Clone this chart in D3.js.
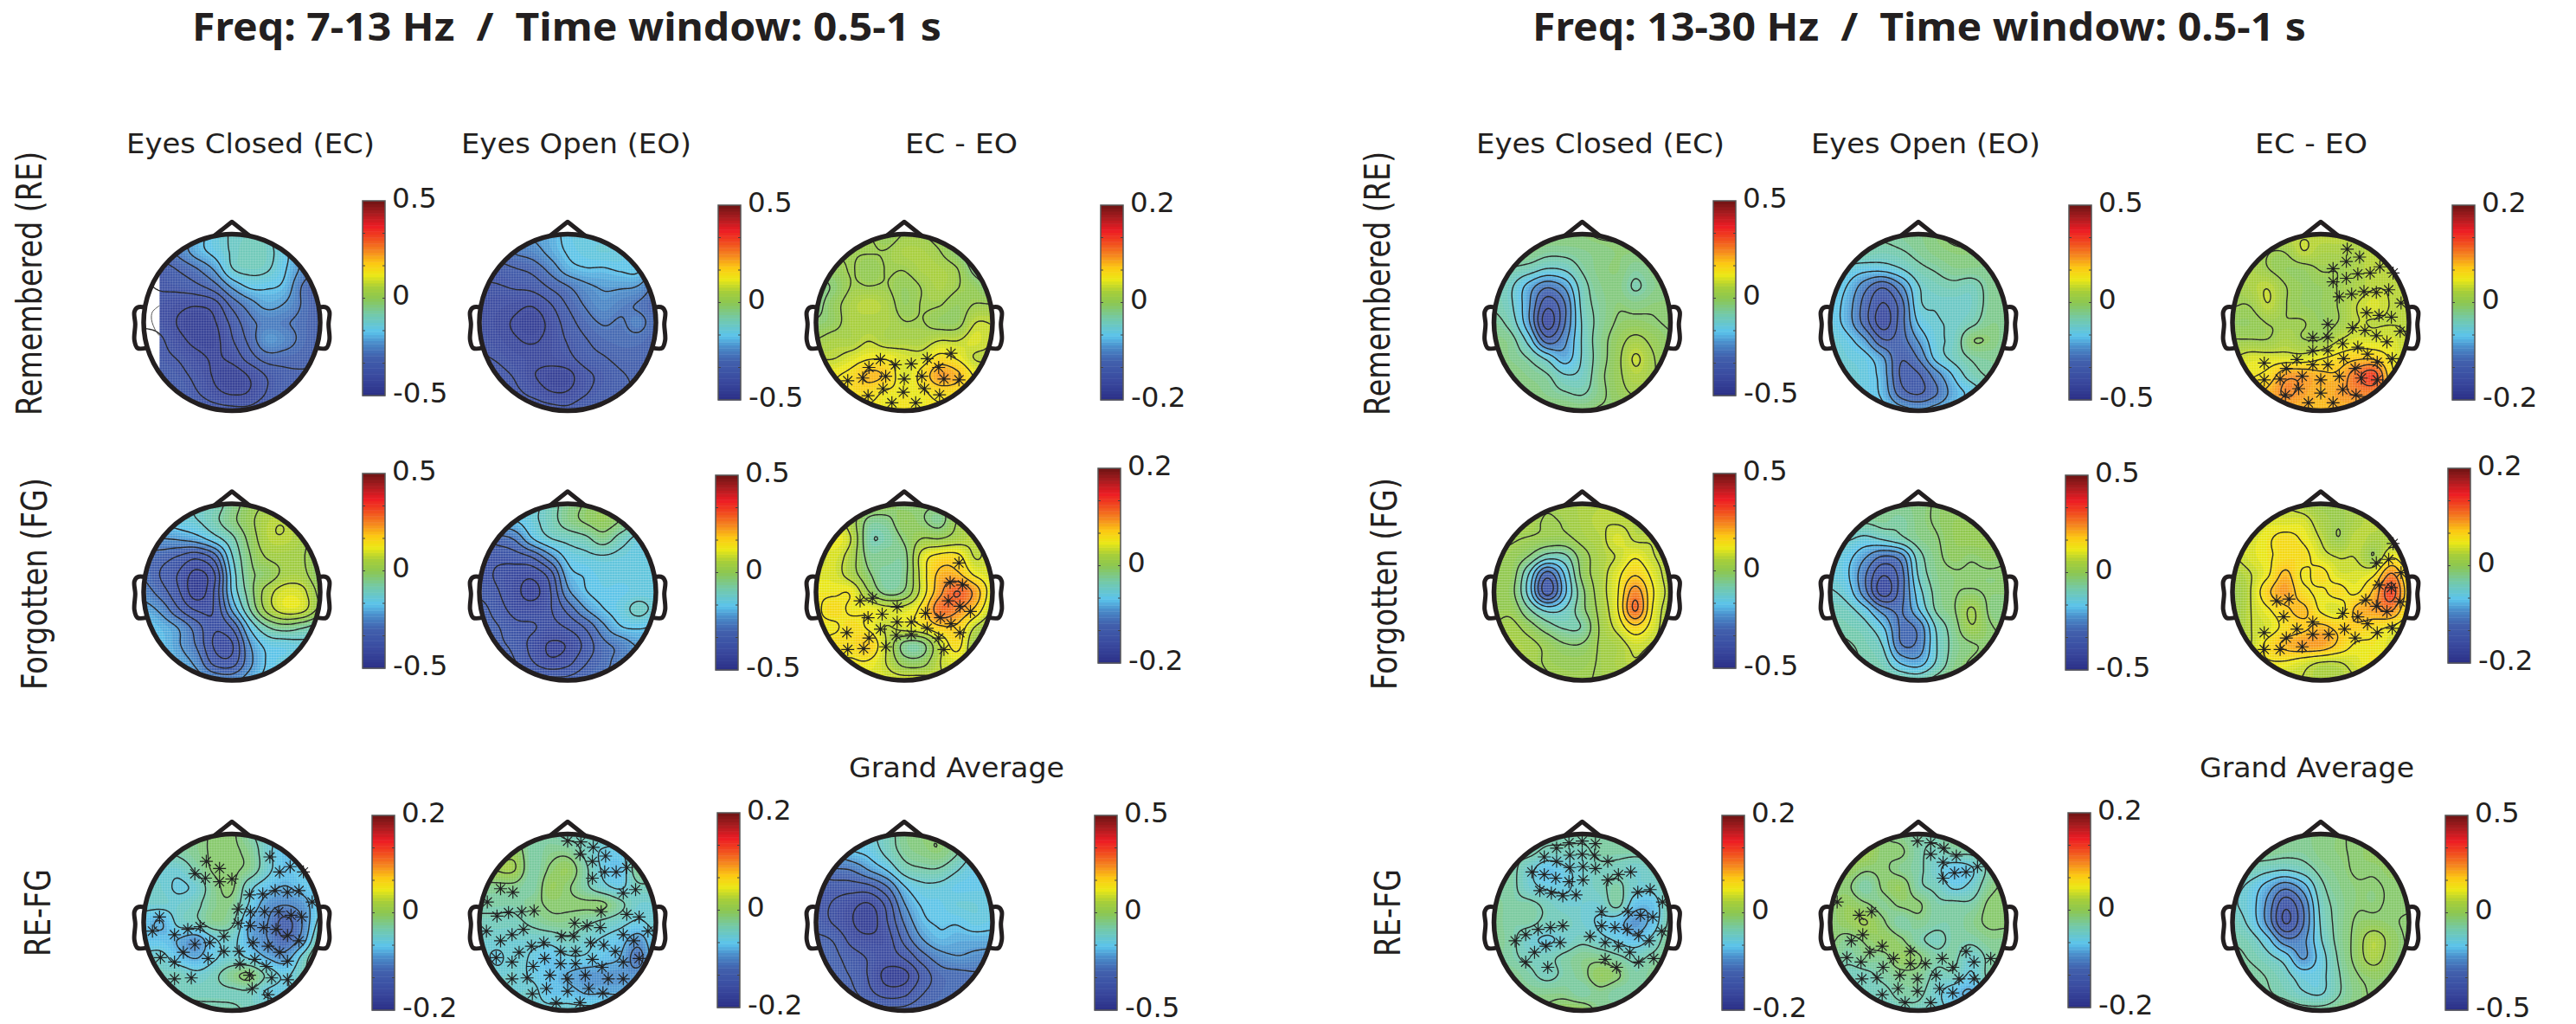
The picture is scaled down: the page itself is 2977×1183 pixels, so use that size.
<!DOCTYPE html>
<html>
<head>
<meta charset="utf-8">
<script src="https://d3js.org/d3.v7.min.js"></script>
<style>
body { margin: 0; background: #fff; }
text { fill: #231f20; font-family: "DejaVu Sans", sans-serif; }
</style>
</head>
<body>
<div id="chart"></div>
<script>
// scalp values in hundredths, 11 columns left to right, 11 rows front to back
const alphaReEc = [
[-28,-28,-26,-20,-15,-12,-11,-12,-18,-26,-28],[-32,-30,-26,-20,-16,-12,-10,-11,-16,-24,-28],[-36,-35,-32,-28,-22,-13,-11,-12,-17,-24,-30],
[-38,-37,-36,-34,-30,-22,-17,-17,-19,-28,-32],[-38,-39,-41,-42,-40,-31,-25,-21,-23,-28,-32],[-38,-39,-43,-45,-43,-36,-29,-26,-27,-29,-32],
[-36,-37,-41,-44,-44,-38,-31,-23,-25,-29,-32],[-34,-36,-38,-41,-43,-41,-35,-30,-30,-31,-33],[-33,-34,-36,-39,-43,-45,-42,-37,-34,-33,-33],
[-32,-33,-34,-37,-41,-43,-42,-37,-33,-32,-32],[-31,-31,-32,-33,-35,-36,-36,-33,-32,-31,-30]];
const alphaReEo = [
[-28,-28,-26,-22,-20,-16,-15,-15,-18,-24,-28],[-32,-30,-27,-25,-21,-17,-15,-14,-15,-20,-26],[-36,-35,-33,-31,-26,-20,-18,-18,-17,-17,-24],
[-38,-38,-37,-36,-32,-28,-24,-22,-22,-23,-29],[-39,-40,-41,-42,-38,-32,-27,-24,-26,-28,-31],[-39,-41,-43,-45,-41,-35,-30,-27,-28,-26,-30],
[-38,-40,-42,-43,-41,-37,-33,-30,-29,-29,-31],[-37,-38,-40,-41,-41,-39,-35,-33,-31,-31,-32],[-35,-36,-38,-42,-44,-44,-39,-36,-33,-32,-32],
[-33,-34,-36,-39,-42,-42,-38,-35,-33,-32,-31],[-30,-31,-32,-33,-35,-36,-33,-33,-32,-31,-30]];
const alphaReDiff = [
[1,1,1,1,0,1,1,0,-1,-2,-2],[0,1,1,1,1,2,2,1,-1,-3,-3],[-1,0,1,0,1,1,2,2,1,-2,-3],
[-2,-1,1,1,1,0,1,2,1,0,-2],[-2,0,2,3,2,0,1,1,0,1,1],[-1,0,2,2,2,1,1,0,0,3,3],
[1,2,2,3,2,2,2,3,3,4,3],[3,3,4,5,5,4,4,6,5,3,3],[4,5,6,8,7,4,6,9,8,5,4],
[5,5,6,6,5,5,5,6,6,5,4],[5,5,5,5,5,5,5,5,5,5,4]];
const alphaFgEc = [
[-15,-15,-14,-12,-10,-5,0,3,3,0,-5],[-18,-17,-15,-13,-9,-4,1,6,7,3,-2],[-25,-23,-22,-20,-15,-9,-1,6,7,4,-2],
[-28,-30,-33,-36,-30,-13,-3,3,4,3,-2],[-28,-33,-38,-44,-38,-16,-4,-1,4,4,-2],[-25,-30,-37,-45,-37,-17,-5,5,10,9,1],
[-20,-24,-32,-38,-37,-22,-8,4,10,9,1],[-17,-19,-23,-30,-37,-32,-17,-8,-5,-7,-10],[-17,-18,-22,-28,-38,-38,-23,-16,-15,-14,-14],
[-17,-18,-20,-24,-34,-35,-24,-17,-15,-15,-15],[-15,-16,-18,-20,-23,-24,-20,-16,-15,-15,-15]];
const alphaFgEo = [
[-15,-15,-15,-14,-10,-5,-2,0,-2,-8,-12],[-22,-20,-18,-14,-10,-5,-2,0,-3,-9,-14],[-32,-30,-27,-18,-13,-11,-9,-5,-10,-14,-15],
[-35,-36,-35,-32,-24,-16,-14,-13,-14,-15,-15],[-36,-38,-40,-41,-35,-20,-17,-15,-15,-15,-15],[-34,-37,-41,-44,-38,-24,-18,-16,-16,-15,-15],
[-30,-35,-39,-40,-38,-31,-23,-18,-15,-11,-14],[-29,-32,-36,-37,-39,-37,-32,-24,-18,-17,-18],[-28,-31,-34,-39,-43,-42,-36,-29,-26,-22,-24],
[-26,-28,-32,-37,-41,-39,-33,-29,-26,-25,-25],[-25,-26,-28,-30,-31,-31,-29,-27,-26,-25,-25]];
const alphaFgDiff = [
[3,3,3,1,0,-1,-1,-1,0,3,4],[4,4,2,-2,-2,0,-1,-2,1,3,4],[4,5,3,-3,-3,-1,1,1,2,3,4],
[3,4,2,-2,-2,-2,4,6,6,3,4],[4,4,2,-1,-3,-2,4,8,8,5,4],[5,5,5,1,-2,-1,4,9,12,9,4],
[5,6,5,5,4,4,6,11,10,7,3],[5,5,6,5,3,4,5,7,7,3,1],[5,6,6,7,3,-2,-2,3,6,1,-1],
[5,5,5,5,3,0,0,3,4,2,-1],[4,4,4,4,4,4,4,3,3,2,1]];
const alphaRfEc = [
[-4,-4,-3,-2,-1,-1,-3,-5,-6,-5,-5],[-4,-4,-3,-2,-1,-1,-2,-5,-7,-6,-5],[-5,-5,-5,-3,-1,-1,-2,-5,-7,-6,-5],
[-5,-5,-6,-5,-2,-1,-5,-7,-8,-7,-6],[-5,-5,-5,-4,-2,-2,-6,-9,-10,-9,-6],[-7,-8,-5,-4,-2,-3,-8,-10,-13,-10,-5],
[-7,-7,-8,-9,-6,-5,-8,-10,-12,-9,-3],[-5,-5,-7,-8,-6,-5,-6,-8,-9,-5,-1],[-3,-4,-4,-5,-4,-2,-1,-4,-6,-4,-2],
[-3,-3,-4,-4,-4,-4,-4,-6,-6,-4,-3],[-2,-2,-2,-3,-3,-3,-4,-4,-4,-3,-3]];
const alphaRfEo = [
[-3,-2,-2,-3,-3,-4,-4,-4,-4,-4,-4],[-3,-1,0,-3,-2,-2,-4,-6,-6,-3,-3],[0,1,1,-3,-1,0,-3,-6,-7,-2,-3],
[-2,-2,-2,-3,0,-1,-3,-5,-6,-4,-4],[-3,-3,-3,-2,-1,-1,-1,-1,-3,-5,-5],[-4,-4,-4,-3,-2,-2,-3,-4,-5,-6,-5],
[-5,-5,-5,-5,-5,-4,-5,-6,-7,-9,-6],[-5,-6,-5,-6,-7,-6,-6,-7,-8,-11,-6],[-4,-5,-5,-6,-7,-8,-9,-9,-9,-9,-6],
[-4,-4,-5,-5,-7,-7,-8,-8,-8,-7,-5],[-4,-4,-4,-5,-5,-5,-5,-5,-5,-5,-5]];
const alphaGrand = [
[-20,-20,-18,-14,-10,-5,-3,-3,-6,-12,-16],[-24,-22,-18,-16,-11,-6,-4,-3,-7,-14,-18],[-30,-28,-27,-22,-17,-10,-8,-8,-12,-16,-18],
[-35,-35,-35,-34,-28,-18,-14,-14,-16,-16,-16],[-36,-38,-41,-43,-36,-23,-17,-16,-14,-14,-15],[-35,-38,-42,-45,-38,-27,-19,-17,-17,-15,-16],
[-31,-33,-39,-41,-40,-31,-23,-19,-20,-20,-20],[-29,-31,-35,-38,-40,-37,-30,-25,-23,-24,-25],[-27,-30,-33,-38,-44,-44,-36,-30,-29,-28,-28],
[-26,-28,-31,-36,-40,-39,-33,-30,-28,-27,-27],[-25,-26,-27,-29,-31,-31,-29,-28,-27,-26,-25]];
const betaReEc = [
[-2,-2,-2,-3,-3,-3,-2,-2,-2,-2,-2],[-3,-3,-4,-6,-6,-5,-4,-3,-3,-3,-3],[-6,-8,-10,-13,-12,-7,-4,-3,-6,-4,-3],
[-8,-12,-20,-27,-22,-10,-5,-4,-8,-5,-3],[-8,-12,-22,-36,-28,-11,-6,-3,-4,-3,-3],[-6,-10,-22,-40,-28,-12,-6,-2,-1,-2,-3],
[-4,-6,-15,-30,-24,-12,-5,0,4,1,-2],[-3,-5,-8,-14,-20,-12,-5,1,8,3,-2],[-2,-3,-5,-7,-12,-11,-4,1,6,3,-1],
[-1,-2,-3,-5,-7,-8,-4,0,3,1,-1],[0,-1,-1,-2,-2,-3,-2,-2,-1,-1,0]];
const betaReEo = [
[-6,-6,-7,-7,-6,-5,-3,-2,-2,-3,-4],[-8,-8,-8,-9,-8,-6,-4,-3,-3,-4,-5],[-12,-14,-16,-16,-13,-9,-7,-5,-5,-5,-5],
[-14,-18,-26,-32,-24,-13,-10,-9,-10,-6,-5],[-15,-20,-30,-38,-30,-14,-12,-12,-11,-6,-5],[-15,-20,-30,-40,-30,-17,-13,-12,-9,-5,-5],
[-13,-16,-22,-32,-30,-22,-14,-11,-3,-3,-6],[-12,-14,-16,-22,-32,-27,-16,-11,-7,-6,-6],[-12,-13,-15,-20,-33,-33,-25,-17,-10,-7,-6],
[-12,-13,-15,-19,-30,-33,-28,-20,-16,-10,-6],[-12,-12,-14,-16,-20,-22,-20,-17,-13,-10,-7]];
const betaReDiff = [
[2,2,2,3,3,3,3,3,2,2,2],[2,2,1,1,3,2,2,2,3,2,2],[2,2,1,0,0,1,1,2,3,3,3],
[1,2,3,1,0,0,1,2,3,3,3],[1,1,3,1,0,0,1,3,4,3,3],[0,0,1,1,1,0,1,3,3,3,3],
[1,1,1,2,1,1,3,4,4,4,3],[3,4,4,4,4,5,6,7,7,5,3],[4,5,6,9,9,8,8,11,13,6,4],
[5,6,8,10,9,8,9,10,10,7,5],[6,6,7,8,8,8,8,8,7,6,5]];
const betaFgEc = [
[4,4,4,3,4,5,6,6,6,5,4],[5,4,4,2,3,5,7,7,6,5,5],[4,3,2,1,1,4,6,10,7,7,5],
[2,1,-3,-10,-9,0,5,8,12,8,5],[1,0,-13,-30,-17,-1,5,11,17,11,5],[1,-1,-15,-35,-19,-4,5,12,25,13,6],
[1,1,-7,-14,-12,-4,4,12,28,12,5],[3,4,0,-5,-8,-7,3,9,16,10,4],[4,5,4,1,-2,-2,3,5,9,7,4],
[4,5,4,2,1,1,3,5,7,5,4],[4,4,4,3,2,2,3,4,4,4,4]];
const betaFgEo = [
[-5,-5,-5,-6,-5,-4,-2,-1,-1,-1,-2],[-7,-7,-7,-6,-7,-4,-2,0,0,1,0],[-12,-12,-14,-12,-9,-5,-3,0,1,1,0],
[-14,-16,-22,-28,-25,-10,-4,-1,-2,-1,-2],[-14,-17,-27,-37,-30,-12,-5,-3,-3,-3,-3],[-12,-15,-26,-40,-30,-15,-6,-3,-2,-3,-3],
[-10,-11,-16,-25,-28,-18,-7,-3,3,-3,-4],[-8,-9,-11,-17,-28,-26,-12,-5,2,-2,-3],[-6,-7,-9,-13,-27,-26,-13,-6,-3,-2,-2],
[-5,-6,-8,-10,-18,-20,-12,-5,-2,-1,-1],[-5,-5,-6,-7,-8,-9,-6,-3,-1,-1,-1]];
const betaFgDiff = [
[3,3,3,3,2,1,1,2,2,2,2],[3,3,4,4,4,2,1,2,3,2,2],[4,4,5,6,5,3,1,3,2,2,2],
[3,4,5,6,6,4,3,3,1,5,3],[2,3,5,8,5,6,4,4,5,10,5],[1,3,7,9,6,5,6,5,8,13,6],
[1,3,5,7,8,5,4,8,9,10,5],[1,3,4,6,7,8,7,7,6,5,4],[2,3,6,8,9,9,7,5,5,4,3],
[3,4,5,5,4,3,3,4,5,4,3],[3,3,3,3,3,2,2,3,3,3,3]];
const betaRfEc = [
[-2,-2,-3,-3,-3,-3,-3,-3,-3,-2,-2],[-3,-3,-3,-4,-4,-4,-3,-3,-3,-3,-3],[-3,-3,-5,-7,-6,-5,-4,-4,-5,-4,-3],
[-3,-3,-5,-6,-6,-5,-4,-3,-5,-5,-3],[-2,-3,-3,-4,-5,-5,-5,-3,-7,-7,-3],[-2,-3,-3,-4,-4,-5,-6,-7,-9,-7,-3],
[-2,-3,-5,-6,-5,-4,-5,-6,-7,-5,-2],[-2,-3,-4,-4,-3,-2,-2,-3,-4,-3,-2],[-2,-2,-3,-4,-3,-2,0,-1,-3,-2,-1],
[-1,-2,-2,-2,-2,-3,-2,-3,-3,-2,-1],[-1,-1,-1,-1,0,0,-2,-2,-2,-2,-1]];
const betaRfEo = [
[1,1,1,-1,-2,-3,-3,-2,-2,-2,-2],[1,1,1,-1,-1,-3,-4,-3,-3,-2,-2],[-1,0,-1,-1,-2,-3,-5,-7,-6,-3,-2],
[-1,-1,-3,-1,0,-3,-4,-6,-5,-2,-1],[-1,0,-1,-2,-1,-1,-3,-3,-3,-1,-1],[-1,0,1,-1,-3,-2,-3,-3,-2,-1,-1],
[-1,-2,-1,0,-1,-3,-4,-3,-3,-2,-2],[-2,-3,-2,-2,0,-1,-3,-3,-5,-3,-2],[-3,-4,-4,-3,-2,-2,-4,-4,-6,-3,-3],
[-3,-3,-4,-4,-3,-3,-5,-7,-8,-4,-3],[-3,-3,-3,-4,-4,-4,-5,-6,-6,-5,-4]];
const betaGrand = [
[-3,-3,-3,-4,-5,-4,-3,-2,-2,-2,-2],[-4,-5,-5,-6,-6,-4,-3,-2,-1,-1,-1],[-8,-9,-11,-12,-10,-6,-4,-2,-2,-1,-1],
[-11,-14,-20,-26,-20,-9,-5,-3,-3,-2,-2],[-12,-15,-24,-36,-27,-11,-6,-3,-3,-2,-2],[-10,-14,-24,-38,-28,-12,-6,-2,-1,-2,-3],
[-8,-10,-16,-26,-24,-13,-6,-1,6,0,-3],[-6,-8,-11,-15,-23,-15,-7,-1,5,-1,-2],[-5,-6,-8,-11,-15,-14,-8,-3,-1,-2,-2],
[-4,-5,-7,-9,-12,-13,-8,-4,-2,-2,-2],[-4,-4,-5,-5,-6,-6,-5,-3,-2,-2,-2]];

// significant electrodes, [x, y] in percent of the head radius
const sigAlphaReDiff = [[-27,42],[-40,51],[-47,63],[-64,66],[-21,61],[-24,75],[-41,83],[-10,48],[0,64],[-1,79],[-14,91],[13,91],[23,75],[40,82],[20,61],[8,47],[26,41],[39,51],[45,64],[62,65],[53,35]];
const sigAlphaFgDiff = [[62,-33],[52,-11],[66,-8],[-50,10],[-36,7],[-8,17],[-25,25],[-41,29],[50,10],[63,16],[75,22],[24,24],[41,29],[-8,34],[8,34],[53,36],[26,41],[-27,42],[-65,46],[63,46],[-9,49],[8,48],[-40,52],[39,52],[-64,65],[-46,64],[-21,62],[45,65]];
const sigAlphaRfEc = [[-29,-69],[-14,-61],[-42,-55],[-30,-50],[-14,-46],[0,-49],[43,-74],[66,-63],[54,-57],[81,-57],[20,-31],[35,-32],[49,-36],[63,-34],[76,-36],[91,-23],[7,-15],[21,-12],[37,-12],[53,-12],[67,-8],[79,-6],[7,1],[21,4],[36,6],[50,8],[63,15],[24,23],[41,27],[54,34],[76,21],[-82,-6],[-90,10],[-65,14],[-50,8],[-36,5],[-42,25],[-25,23],[-55,34],[-9,16],[-9,33],[8,33],[-27,41],[-81,40],[-65,45],[26,42],[63,44],[9,47],[39,50],[20,60],[45,63],[63,65],[-65,64],[-46,63],[23,75],[41,82]];
const sigAlphaRfEo = [[0,-92],[15,-91],[29,-85],[14,-77],[43,-75],[28,-69],[42,-57],[55,-57],[67,-62],[28,-50],[-76,-38],[-62,-34],[63,-33],[77,-37],[-91,-23],[38,-12],[-80,-7],[-67,-11],[-52,-12],[-38,-13],[67,-9],[81,-6],[8,1],[22,4],[37,6],[-92,10],[-50,8],[-63,14],[-7,16],[7,16],[63,14],[91,10],[-76,21],[-27,23],[26,23],[41,26],[75,21],[-41,27],[-8,33],[9,33],[-55,34],[54,33],[-81,40],[-26,41],[28,42],[81,41],[-63,45],[-8,47],[9,47],[63,45],[-39,50],[39,51],[-20,60],[20,60],[-63,64],[-46,63],[0,64],[46,64],[63,64],[-24,75],[0,78],[24,75],[-40,81],[40,80],[-13,91],[14,91]];
const sigBetaReDiff = [[30,-83],[29,-69],[44,-74],[14,-61],[14,-46],[29,-50],[42,-55],[56,-56],[67,-63],[82,-56],[21,-29],[35,-32],[49,-35],[63,-34],[77,-37],[91,-22],[52,-11],[66,-8],[80,-6],[90,10],[8,2],[36,6],[50,9],[63,15],[75,22],[-9,17],[8,17],[25,24],[42,28],[-9,32],[8,32],[53,36],[-27,42],[26,41],[81,41],[-64,46],[-9,48],[8,48],[64,45],[-39,52],[39,52],[-64,65],[-46,64],[-21,61],[0,65],[21,61],[46,63],[64,65],[-25,75],[0,80],[25,76],[-40,82],[40,82],[-14,91],[14,91]];
const sigBetaFgDiff = [[82,-55],[63,-33],[77,-37],[91,-22],[66,-8],[80,-5],[90,11],[-50,10],[-36,8],[51,9],[63,16],[75,22],[-42,28],[25,24],[42,28],[-9,34],[53,36],[-27,42],[27,42],[81,41],[-64,46],[64,46],[-9,48],[9,48],[-39,52],[39,52],[-64,65],[-46,65],[-21,62]];
const sigBetaRfEc = [[-15,-90],[0,-92],[15,-89],[-29,-84],[-14,-76],[0,-77],[14,-76],[-43,-74],[-29,-69],[29,-69],[-14,-62],[1,-63],[15,-61],[-57,-57],[-43,-54],[-30,-50],[-15,-46],[1,-48],[41,-54],[55,-57],[29,-48],[-48,-36],[-35,-33],[-22,-30],[-7,-31],[63,-34],[77,-37],[91,-23],[22,-12],[52,-12],[66,-8],[80,-6],[22,4],[37,6],[51,8],[-22,4],[-36,6],[-50,8],[-64,14],[64,15],[90,10],[9,16],[-76,21],[-41,27],[-25,23],[26,23],[41,27],[76,21],[-54,34],[54,34],[26,42],[-64,45],[64,45],[81,41],[-39,51],[39,51]];
const sigBetaRfEo = [[-1,-92],[14,-90],[29,-84],[14,-77],[43,-75],[28,-68],[41,-56],[54,-57],[67,-63],[28,-50],[-92,-23],[-53,-12],[-67,-8],[-63,14],[-76,21],[-41,27],[-9,33],[-55,34],[54,33],[-81,40],[-28,41],[27,41],[82,41],[-65,45],[-9,47],[8,47],[63,45],[-40,51],[39,51],[-21,60],[20,60],[-64,64],[-47,63],[-1,64],[46,64],[63,64],[-23,75],[-1,78],[24,75],[-41,82],[39,80],[-15,91],[14,91]];

const wide = 50, narrow = 20; // colour limits, hundredths

const colorStops = [[0,"#2b2f86"],[.1,"#3a4a9f"],[.2,"#4160ad"],[.27,"#4a8bc9"],[.33,"#5bc4ec"],[.42,"#74c9a8"],[.5,"#8cc751"],[.56,"#a9cf38"],[.62,"#ece816"],[.68,"#fcc813"],[.74,"#f58a1f"],[.82,"#f0411f"],[.87,"#ed1c24"],[.94,"#a61c1f"],[1,"#6f1414"]];
const jet = d3.scaleLinear().domain(colorStops.map(d => d[0])).range(colorStops.map(d => d[1]));
const jetBins = d3.range(64).map(i => jet((i + .5) / 64));

const headR = 102, gridN = 111;
const rowY = [372.5, 684, 1065.5];
const colX = [[268, 656, 1045], [1828.5, 2217, 2682]];

// one entry per head: panel, row, col, values, limit, colorbar left/top, markers
const heads = [
  [0,0,0,alphaReEc,wide,419,232],[0,0,1,alphaReEo,wide,830,237],[0,0,2,alphaReDiff,narrow,1272,237,sigAlphaReDiff],
  [0,1,0,alphaFgEc,wide,419,547],[0,1,1,alphaFgEo,wide,827,549],[0,1,2,alphaFgDiff,narrow,1269,541,sigAlphaFgDiff],
  [0,2,0,alphaRfEc,narrow,430,942,sigAlphaRfEc],[0,2,1,alphaRfEo,narrow,829,939,sigAlphaRfEo],[0,2,2,alphaGrand,wide,1265,942],
  [1,0,0,betaReEc,wide,1980,232],[1,0,1,betaReEo,wide,2391,237],[1,0,2,betaReDiff,narrow,2834,237,sigBetaReDiff],
  [1,1,0,betaFgEc,wide,1980,547],[1,1,1,betaFgEo,wide,2387,549],[1,1,2,betaFgDiff,narrow,2829,541,sigBetaFgDiff],
  [1,2,0,betaRfEc,narrow,1990,942,sigBetaRfEc],[1,2,1,betaRfEo,narrow,2390,939,sigBetaRfEo],[1,2,2,betaGrand,wide,2826,942]
];

const svg = d3.select("#chart").append("svg").attr("width", 2977).attr("height", 1183);
const defs = svg.append("defs");
defs.append("clipPath").attr("id", "scalp").append("circle").attr("r", headR);

// the interpolated maps of the original have a fine pale mesh over them
const mesh = defs.append("pattern").attr("id", "mesh").attr("patternUnits", "userSpaceOnUse").attr("width", 3).attr("height", 3);
mesh.append("rect").attr("width", 3).attr("height", 1).attr("fill", "#fff").attr("fill-opacity", .2);
mesh.append("rect").attr("width", 1).attr("height", 3).attr("fill", "#fff").attr("fill-opacity", .1);

// Catmull-Rom upsampling of the read grid, same idea as interpolated shading
function cr(p0, p1, p2, p3, t) {
  return .5 * (2 * p1 + (p2 - p0) * t + (2 * p0 - 5 * p1 + 4 * p2 - p3) * t * t + (3 * p1 - p0 - 3 * p2 + p3) * t * t * t);
}
function upsample(grid) {
  const last = grid.length - 1, out = [];
  const at = (r, c) => grid[Math.max(0, Math.min(last, r))][Math.max(0, Math.min(last, c))];
  for (let j = 0; j < gridN; j++) {
    const v = j / (gridN - 1) * last, r = Math.min(last - 1, Math.floor(v)), ty = v - r;
    for (let i = 0; i < gridN; i++) {
      const u = i / (gridN - 1) * last, c = Math.min(last - 1, Math.floor(u)), tx = u - c;
      const rows = [-1, 0, 1, 2].map(k => cr(at(r + k, c - 1), at(r + k, c), at(r + k, c + 1), at(r + k, c + 2), tx));
      out.push(cr(rows[0], rows[1], rows[2], rows[3], ty));
    }
  }
  return out;
}

const cellSize = 2 * headR / (gridN - 1);
const contourPath = d3.geoPath(d3.geoIdentity().scale(cellSize).translate([-headR - cellSize / 2, -headR - cellSize / 2]));
const headUnit = d3.scaleLinear().domain([-100, 100]).range([-headR, headR]);

function star(x, y) {
  const p = d3.path(), r = 7.5;
  d3.range(4).forEach(i => {
    const a = i * Math.PI / 4;
    p.moveTo(x - r * Math.cos(a), y - r * Math.sin(a));
    p.lineTo(x + r * Math.cos(a), y + r * Math.sin(a));
  });
  return p.toString();
}

const earCurve = d3.line().curve(d3.curveCatmullRom);
const earLeft = [[-.98,-.17],[-1.07,-.17],[-1.105,-.12],[-1.095,.02],[-1.105,.2],[-1.07,.29],[-.97,.29]];

heads.forEach(([panel, row, col, values, limit, barX, barY, sig]) => {
  const g = svg.append("g").attr("transform", `translate(${colX[panel][col]},${rowY[row]})`);
  const color = d3.scaleQuantize().domain([-limit, limit]).range(jetBins);
  const fine = upsample(values);

  const map = g.append("g").attr("clip-path", "url(#scalp)");
  map.append("circle").attr("r", headR).attr("fill", color(-limit));
  const levels = d3.range(1, 64).map(i => -limit + 2 * limit * i / 64);
  const contours = d3.contours().size([gridN, gridN]).smooth(true);
  map.selectAll("path.fill")
    .data(contours.thresholds(levels)(fine))
    .join("path").attr("class", "fill")
    .attr("d", contourPath)
    .attr("fill", d => color(d.value + 1e-6));
  map.append("circle").attr("r", headR).attr("fill", "url(#mesh)");

  // the eyes-closed head of the first panel has a blank strip on its left
  if (values === alphaReEc) {
    map.append("rect").attr("x", -headR).attr("y", headUnit(-59)).attr("width", headUnit(-82) + headR).attr("height", headUnit(52) - headUnit(-59)).attr("fill", "#fff");
    g.append("path").attr("d", earCurve([[-.82,-.19],[-.9,-.12],[-.91,-.03],[-.86,.1],[-.82,.15]].map(d => [d[0] * headR, d[1] * headR])))
      .attr("fill", "none").attr("stroke", "#555").attr("stroke-width", 1);
  }

  const step = limit === wide ? 5 : 2.2;
  const lineLevels = d3.range(-limit + step / 2, limit, step);
  map.selectAll("path.iso")
    .data(contours.thresholds(lineLevels)(fine))
    .join("path").attr("class", "iso")
    .attr("d", contourPath)
    .attr("fill", "none").attr("stroke", "#2a2a2a").attr("stroke-width", 1.4);

  if (sig) {
    g.selectAll("path.sig").data(sig).join("path").attr("class", "sig")
      .attr("d", d => star(headUnit(d[0]), headUnit(d[1])))
      .attr("fill", "none").attr("stroke", "#222").attr("stroke-width", 1.2);
  }

  // head outline, nose, ears
  g.append("path")
    .attr("d", d3.line()([[-.2,-.98],[0,-1.14],[.2,-.98]].map(d => [d[0] * headR, d[1] * headR])))
    .attr("fill", "#fff").attr("stroke", "#231f20").attr("stroke-width", 5).attr("stroke-linejoin", "round");
  [-1, 1].forEach(side => {
    g.append("path").attr("d", earCurve(earLeft.map(d => [side * d[0] * headR, d[1] * headR])))
      .attr("fill", "#fff").attr("stroke", "#231f20").attr("stroke-width", 5);
  });
  g.append("circle").attr("r", headR).attr("fill", "none").attr("stroke", "#231f20").attr("stroke-width", 5.5);

  // colorbar
  const barW = 26, barH = 225;
  const bar = svg.append("g").attr("transform", `translate(${barX},${barY})`);
  const barY0 = d3.scaleLinear().domain([-limit, limit]).range([barH, 0]);
  bar.selectAll("rect").data(jetBins).join("rect")
    .attr("x", 0).attr("width", barW)
    .attr("y", (d, i) => barY0(-limit + 2 * limit * (i + 1) / 64))
    .attr("height", barH / 64 + .5)
    .attr("fill", d => d);
  bar.append("rect").attr("width", barW).attr("height", barH).attr("fill", "none").attr("stroke", "#555").attr("stroke-width", 1.5);
  const tickVals = d3.range(-2, 3).map(i => i * limit / 3);
  bar.selectAll("path.tick").data(tickVals).join("path").attr("class", "tick")
    .attr("d", d => `M0,${barY0(d)}h3M${barW},${barY0(d)}h-3`).attr("stroke", "#444").attr("stroke-width", 1);
  bar.selectAll("text").data([limit, 0, -limit]).join("text")
    .attr("x", d => barW + (d < 0 ? 9 : 8))
    .attr("y", d => barY0(d) - 4)
    .attr("dy", ".36em")
    .attr("font-size", 32.5)
    .text(d => d === 0 ? "0" : (d < 0 ? "-" : "") + Math.abs(d / 100));
});

// labels
const suptitles = [["Freq: 7-13 Hz  /  Time window: 0.5-1 s", 222, 866], ["Freq: 13-30 Hz  /  Time window: 0.5-1 s", 1771, 894]];
const colTitles = [
  ["Eyes Closed (EC)", 146, 287, 177], ["Eyes Open (EO)", 533, 266, 177], ["EC - EO", 1046, 130, 177], ["Grand Average", 981, 249, 898],
  ["Eyes Closed (EC)", 1706, 287, 177], ["Eyes Open (EO)", 2093, 265, 177], ["EC - EO", 2606, 130, 177], ["Grand Average", 2542, 248, 898]
];
const rowTitles = [
  ["Remembered (RE)", 48, 480, 305], ["Forgotten (FG)", 54, 797, 245], ["RE-FG", 58, 1105, 101],
  ["Remembered (RE)", 1606, 480, 305], ["Forgotten (FG)", 1614, 797, 245], ["RE-FG", 1618, 1105, 101]
];

svg.selectAll("text.sup").data(suptitles).join("text").attr("class", "sup")
  .attr("x", d => d[1]).attr("y", 47)
  .attr("textLength", d => d[2]).attr("lengthAdjust", "spacingAndGlyphs")
  .attr("xml:space", "preserve").style("white-space", "pre")
  .style("font-family", '"Noto Sans", sans-serif').attr("font-weight", 700).attr("font-size", 45)
  .text(d => d[0]);
svg.selectAll("text.col").data(colTitles).join("text").attr("class", "col")
  .attr("x", d => d[1]).attr("y", d => d[3])
  .attr("textLength", d => d[2]).attr("lengthAdjust", "spacingAndGlyphs")
  .attr("font-size", 32)
  .text(d => d[0]);
svg.selectAll("text.row").data(rowTitles).join("text").attr("class", "row")
  .attr("transform", d => `translate(${d[1]},${d[2]}) rotate(-90)`)
  .attr("textLength", d => d[3]).attr("lengthAdjust", "spacingAndGlyphs")
  .attr("font-size", 40)
  .text(d => d[0]);
</script>
</body>
</html>
